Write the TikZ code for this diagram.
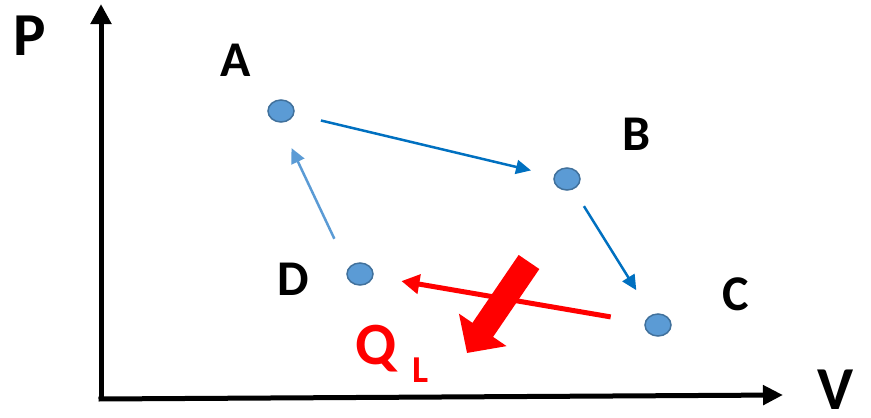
\documentclass[tikz,border=0pt]{standalone}
\usepackage{fontspec}
\usepackage{xcolor}
\usetikzlibrary{arrows.meta,shapes.geometric}

\newfontfamily\lblfont{Carlito}

\definecolor{ptfill}{HTML}{5B9BD5}
\definecolor{ptedge}{HTML}{41719C}
\definecolor{flowblue}{HTML}{0070C0}
\definecolor{flowlight}{HTML}{5B9BD5}
\definecolor{heatred}{HTML}{FF0000}

\tikzset{
    statept/.style={ellipse, draw=ptedge, fill=ptfill, line width=1.5pt,
        minimum width=26pt, minimum height=22pt, inner sep=0pt},
    statelbl/.style={font=\lblfont\bfseries\fontsize{50}{50}\selectfont, inner sep=0pt},
    axislbl/.style={font=\lblfont\bfseries\fontsize{61}{61}\selectfont, inner sep=0pt},
    flow/.style={line width=2.5pt, -{Triangle[length=15pt,width=14pt]}},
}

\begin{document}
\begin{tikzpicture}[x=1pt, y=-1pt]

        \useasboundingbox (0,0) rectangle (871,418);

        % axes

        \coordinate (origin) at (101,399);
        \coordinate (ptop) at (101,4);
        \coordinate (vend) at (783,395);

        \draw[black, line width=5pt, -{Triangle[length=20pt,width=20pt]}] (origin) -- (ptop);
        \draw[black, line width=5pt, -{Triangle[length=20pt,width=19pt]}] ([xshift=-2.5pt]origin) -- (vend);

        \node[axislbl] (plbl) at (30,36) {P};
        \node[axislbl] (vlbl) at (836,390) {V};

        % states

        \node[statept] (ptA) at (281,111) {}; % A
        \node[statept] (ptB) at (567,179) {}; % B
        \node[statept] (ptC) at (658,325) {}; % C
        \node[statept] (ptD) at (360,274) {}; % D

        \node[statelbl] (lblA) at (236,60) {A};
        \node[statelbl] (lblB) at (637,134) {B};
        \node[statelbl] (lblC) at (736,294) {C};
        \node[statelbl] (lblD) at (293,279) {D};

        % cycle

        \draw[flow, flowblue, shorten <=41pt, shorten >=37pt] (ptA.center) -- (ptB.center);
        \draw[flow, flowblue, shorten <=32pt, shorten >=41pt] (ptB.center) -- (ptC.center);
        \draw[heatred, line width=5pt, -{Triangle[length=18pt,width=19pt]},
            shorten <=48pt, shorten >=42pt] (ptC.center) -- (ptD.center);
        \draw[flow, flowlight, shorten <=39pt, shorten >=41pt]
            ([xshift=-9pt]ptD.center) -- ([xshift=-7pt]ptA.center);

        % heat out

        \coordinate (qtail) at (529,262);
        \coordinate (qtip) at (467,353);

        \draw[heatred, line width=25pt, -{Triangle[length=28pt,width=56pt]}] (qtail) -- (qtip);

        \node[font=\lblfont\bfseries\fontsize{60}{60}\selectfont, text=heatred, inner sep=0pt] (qlbl) at (376,349) {Q};
        \node[font=\lblfont\bfseries\fontsize{38}{38}\selectfont, text=heatred, inner sep=0pt] (llbl) at (421,370) {L};

    \end{tikzpicture}
\end{document}
